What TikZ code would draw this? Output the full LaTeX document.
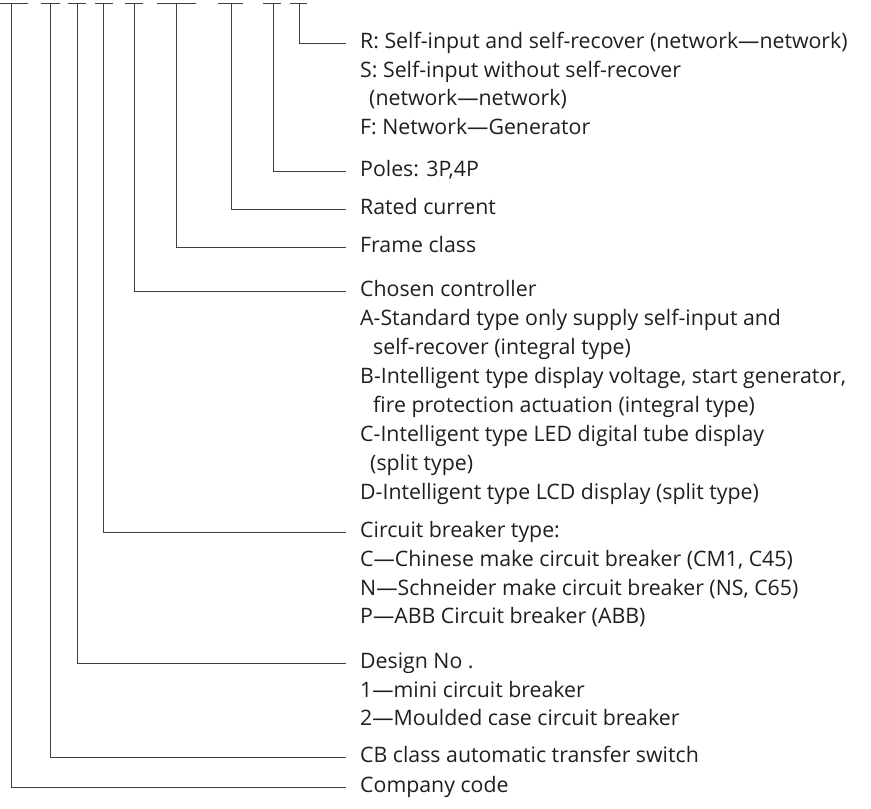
\documentclass[tikz,border=0pt]{standalone}
\usepackage{fontspec}
\setmainfont{Open Sans}
\begin{document}
\begin{tikzpicture}[x=1pt,y=-1pt,
  lbl/.style={anchor=west,inner sep=0pt,text height=15.5pt,text depth=4pt,font=\fontsize{21.3}{26}\selectfont,text=black!88},
  bar/.style={draw=black!75,line width=0.9pt},
  conn/.style={draw=black!75,line width=0.9pt}]
\useasboundingbox (0,0) rectangle (871,809);
% top bars
\foreach \a/\b in {0/28,41/60,68/86,95/113,125/143,157/196,218/243,263/281,290/307}
  \draw[bar] (\a,3) -- (\b,3);
\coordinate (b1) at (11,3);
\coordinate (b2) at (50,3);
\coordinate (b3) at (77,3);
\coordinate (b4) at (103,3);
\coordinate (b5) at (134,3);
\coordinate (b6) at (176,3);
\coordinate (b7) at (231,3);
\coordinate (b8) at (273,3);
\coordinate (b9) at (299,3);
\def\tx{360}
\def\gap{14pt}
% group R
\node[lbl] (r1) at (\tx,43) {R: Self-input and self-recover (network—network)};
\node[lbl] (r2) at (\tx,71.5) {S: Self-input without self-recover};
\node[lbl] (r3) at (\tx+9,100) {(network—network)};
\node[lbl] (r4) at (\tx,128.5) {F: Network—Generator};
\node[lbl] (p1) at (\tx,171) {Poles: 3P,4P};
\node[lbl] (c1) at (\tx,209) {Rated current};
\node[lbl] (f1) at (\tx,247) {Frame class};
% chosen controller
\node[lbl] (k1) at (\tx,291) {Chosen controller};
\node[lbl] (k2) at (\tx,320) {A-Standard type only supply self-input and};
\node[lbl] (k3) at (\tx+13,349) {self-recover (integral type)};
\node[lbl] (k4) at (\tx,378) {B-Intelligent type display voltage, start generator,};
\node[lbl] (k5) at (\tx+13,407) {fire protection actuation (integral type)};
\node[lbl] (k6) at (\tx,436) {C-Intelligent type LED digital tube display};
\node[lbl] (k7) at (\tx+10,465) {(split type)};
\node[lbl] (k8) at (\tx,494) {D-Intelligent type LCD display (split type)};
% circuit breaker type
\node[lbl] (t1) at (\tx,532) {Circuit breaker type:};
\node[lbl] (t2) at (\tx,561) {C—Chinese make circuit breaker (CM1, C45)};
\node[lbl] (t3) at (\tx,589.5) {N—Schneider make circuit breaker (NS, C65)};
\node[lbl] (t4) at (\tx,618) {P—ABB Circuit breaker (ABB)};
% design no
\node[lbl] (d1) at (\tx,663) {Design No .};
\node[lbl] (d2) at (\tx,691.5) {1—mini circuit breaker};
\node[lbl] (d3) at (\tx,720) {2—Moulded case circuit breaker};
\node[lbl] (s1) at (\tx,757) {CB class automatic transfer switch};
\node[lbl] (e1) at (\tx,787) {Company code};
% connectors
\draw[conn] (b9) |- ([xshift=-\gap]r1.west);
\draw[conn] (b8) |- ([xshift=-\gap]p1.west);
\draw[conn] (b7) |- ([xshift=-\gap]c1.west);
\draw[conn] (b6) |- ([xshift=-\gap]f1.west);
\draw[conn] (b5) |- ([xshift=-\gap]k1.west);
\draw[conn] (b4) |- ([xshift=-\gap]t1.west);
\draw[conn] (b3) |- ([xshift=-\gap]d1.west);
\draw[conn] (b2) |- ([xshift=-\gap]s1.west);
\draw[conn] (b1) |- ([xshift=-\gap]e1.west);
\end{tikzpicture}
\end{document}
